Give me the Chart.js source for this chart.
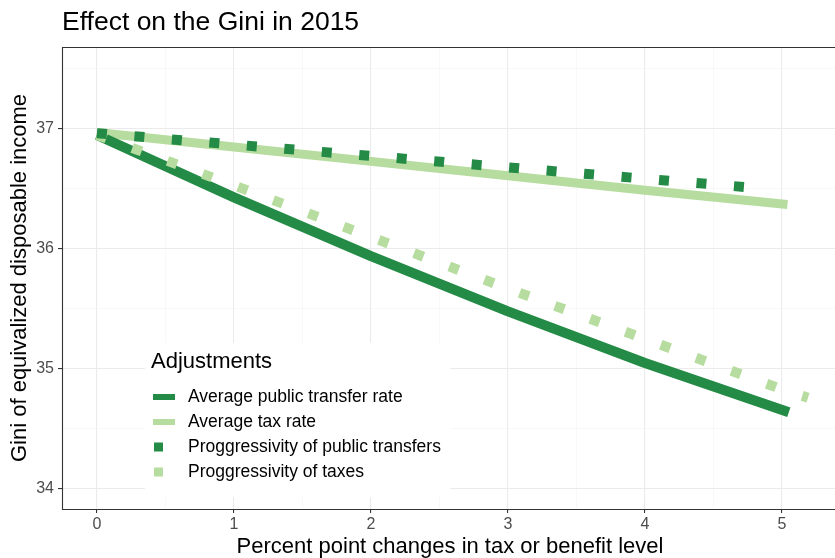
<!DOCTYPE html>
<html><head><meta charset="utf-8">
<script src="https://cdn.jsdelivr.net/npm/chart.js@4"></script>
<style>html,body{margin:0;padding:0;background:#fff}#wrap{width:835px;height:558px;position:relative}</style>
</head><body><div id="wrap"><canvas id="c" width="835" height="558"></canvas></div>
<script>
const chartTitle = 'Effect on the Gini in 2015';
const xAxisTitle = 'Percent point changes in tax or benefit level';
const yAxisTitle = 'Gini of equivalized disposable income';
const legendTitle = 'Adjustments';
const seriesNames = ['Average public transfer rate', 'Average tax rate', 'Proggressivity of public transfers', 'Proggressivity of taxes'];

const xTransferRate = [0, 1, 2, 3, 4, 5.05];
const yTransferRate = [36.95, 36.43, 35.94, 35.48, 35.05, 34.64];
const xTaxRate = [0, 1, 2, 3, 4, 5.04];
const yTaxRate = [36.97, 36.85, 36.73, 36.61, 36.49, 36.37];
const xProgTransfers = [0, 1, 2, 3, 4, 4.74];
const yProgTransfers = [36.965, 36.87, 36.775, 36.68, 36.585, 36.515];
const xProgTaxes = [0, 1, 2, 3, 4, 5, 5.19];
const yProgTaxes = [36.95, 36.53, 36.10, 35.67, 35.25, 34.83, 34.76];

const xTickValues = [0, 0.5, 1, 1.5, 2, 2.5, 3, 3.5, 4, 4.5, 5];
const yTickValues = [34, 34.5, 35, 35.5, 36, 36.5, 37, 37.5];

const DARK = '#238b45';
const LIGHT = '#b7dc9f';
const FONT = '"Liberation Sans", Arial, sans-serif';

const pts = (xs, ys) => xs.map((x, i) => ({x: x, y: ys[i]}));
const isMajor = v => Math.abs(v - Math.round(v)) < 1e-9;

const decor = {
  id: 'decor',
  afterDraw(chart) {
    const ctx = chart.ctx, a = chart.chartArea;
    ctx.save();
    ctx.strokeStyle = '#333333';
    ctx.lineWidth = 1.1;
    ctx.beginPath();
    ctx.moveTo(chart.width + 2, a.top + 0.5);
    ctx.lineTo(a.left + 0.5, a.top + 0.5);
    ctx.lineTo(a.left + 0.5, a.bottom + 0.5);
    ctx.lineTo(chart.width + 2, a.bottom + 0.5);
    ctx.stroke();
    ctx.fillStyle = '#000';
    ctx.textBaseline = 'middle';
    ctx.textAlign = 'left';
    ctx.font = '26.5px ' + FONT;
    ctx.fillText(chartTitle, 62, 23);
    ctx.font = '22px ' + FONT;
    ctx.textAlign = 'center';
    ctx.fillText(xAxisTitle, 450, 547);
    ctx.save();
    ctx.translate(20, 278);
    ctx.rotate(-Math.PI / 2);
    ctx.fillText(yAxisTitle, 0, 0);
    ctx.restore();
    ctx.fillStyle = '#ffffff';
    ctx.fillRect(145, 343, 305, 154);
    ctx.fillStyle = '#000';
    ctx.textAlign = 'left';
    ctx.font = '22px ' + FONT;
    ctx.fillText(legendTitle, 151, 362);
    const rows = [397, 422, 447, 472];
    const cols = [DARK, LIGHT, DARK, LIGHT];
    ctx.font = '17.5px ' + FONT;
    seriesNames.forEach((name, i) => {
      ctx.fillStyle = cols[i];
      if (i < 2) ctx.fillRect(153, rows[i] - 3, 22, 6);
      else ctx.fillRect(154, rows[i] - 4.5, 9, 9);
      ctx.fillStyle = '#000';
      ctx.fillText(name, 188, rows[i]);
    });
    ctx.restore();
  }
};

const gridOpts = {
  color: c => isMajor(c.tick.value) ? '#ebebeb' : '#f4f4f4',
  lineWidth: c => isMajor(c.tick.value) ? 1.1 : 0.6,
  tickColor: c => isMajor(c.tick.value) ? '#333333' : 'rgba(0,0,0,0)',
  tickLength: 4,
  drawTicks: true
};

new Chart(document.getElementById('c'), {
  type: 'line',
  data: {
    datasets: [
      {label: seriesNames[0], data: pts(xTransferRate, yTransferRate), borderColor: DARK, borderWidth: 10, order: 3},
      {label: seriesNames[1], data: pts(xTaxRate, yTaxRate), borderColor: LIGHT, borderWidth: 9, order: 4},
      {label: seriesNames[2], data: pts(xProgTransfers, yProgTransfers), borderColor: DARK, borderWidth: 10, borderDash: [10, 27.6], order: 1},
      {label: seriesNames[3], data: pts(xProgTaxes, yProgTaxes), borderColor: LIGHT, borderWidth: 10, borderDash: [10, 27.6], order: 2}
    ]
  },
  options: {
    responsive: false,
    animation: false,
    devicePixelRatio: 1,
    elements: {point: {radius: 0}, line: {tension: 0, borderCapStyle: 'butt', borderJoinStyle: 'round', fill: false}},
    layout: {padding: {top: 47, left: 0, right: 0, bottom: 0}},
    plugins: {legend: {display: false}, tooltip: {enabled: false}, title: {display: false}},
    scales: {
      x: {
        type: 'linear', min: -0.255, max: 5.387,
        afterBuildTicks: s => { s.ticks = xTickValues.map(v => ({value: v})); },
        afterFit: s => { s.height = 49; },
        grid: gridOpts,
        border: {display: false},
        ticks: {color: '#4d4d4d', font: {size: 16, family: FONT}, padding: 2, maxRotation: 0, autoSkip: false,
          callback: v => isMajor(v) ? String(Math.round(v)) : ''}
      },
      y: {
        type: 'linear', min: 33.833, max: 37.683,
        afterBuildTicks: s => { s.ticks = yTickValues.map(v => ({value: v})); },
        afterFit: s => { s.width = 62; },
        grid: gridOpts,
        border: {display: false},
        ticks: {color: '#4d4d4d', font: {size: 16, family: FONT}, padding: 4, autoSkip: false,
          callback: v => isMajor(v) ? String(Math.round(v)) : ''}
      }
    }
  },
  plugins: [decor]
});
</script></body></html>
